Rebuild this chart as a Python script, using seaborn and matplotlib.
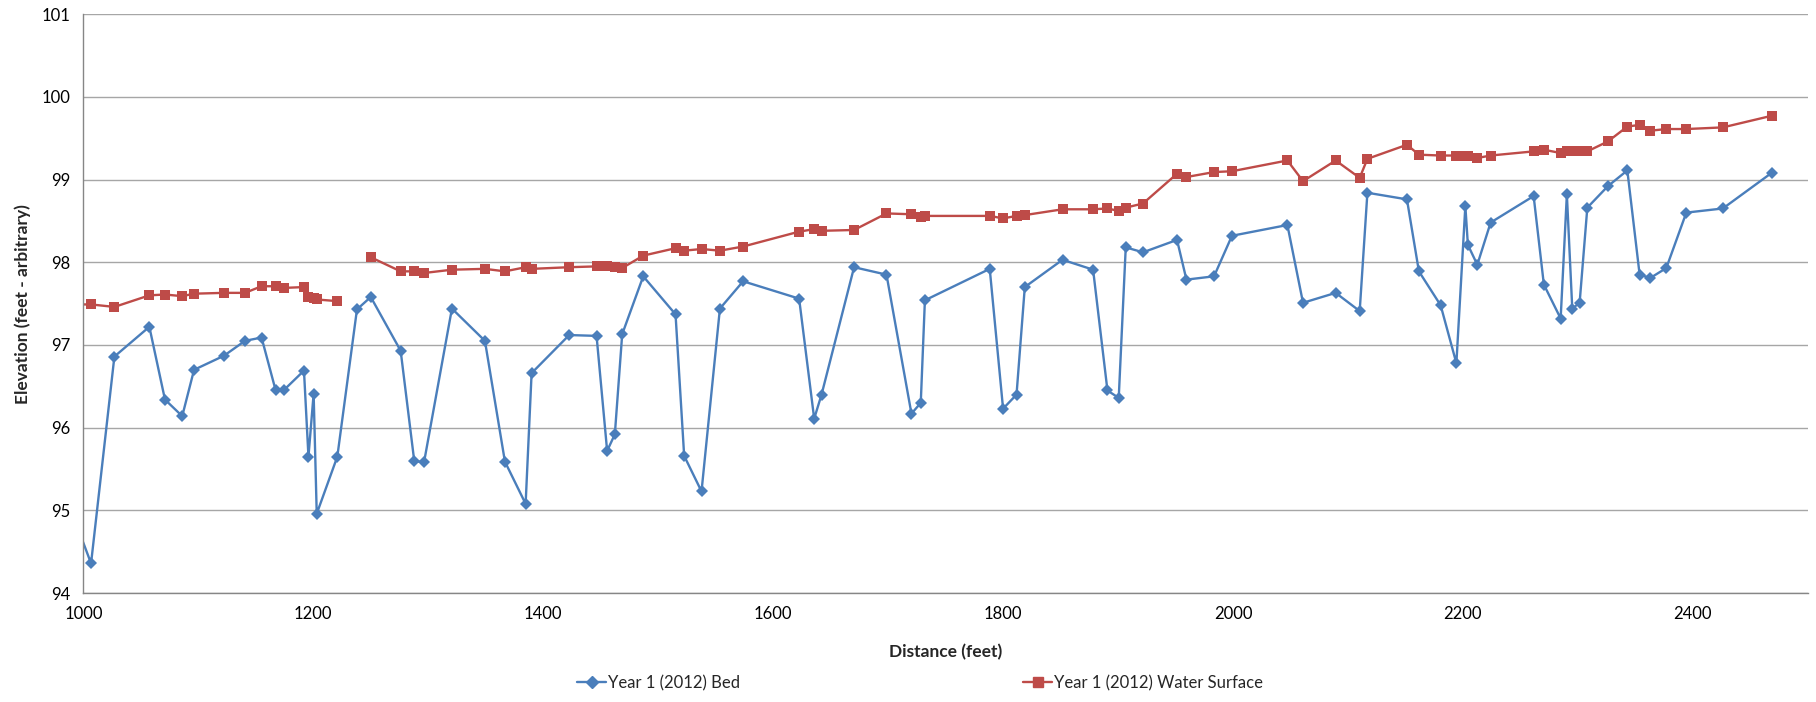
import numpy as np
import pandas as pd
import matplotlib
matplotlib.use("Agg")
import matplotlib.pyplot as plt
from matplotlib.lines import Line2D
import seaborn as sns

# station distance (feet)
distance = [990, 1006.7, 1027, 1057.4, 1071, 1086, 1096.3, 1122.3, 1140.6, 1155, 1167.3,
            1174.8, 1191.9, 1195.8, 1200.3, 1203, 1220.9, 1238, 1250,
            1276, 1287.8, 1296.3, 1320.6, 1349.3, 1366.7, 1384.7, 1389.9, 1422.6,
            1446.4, 1455.6, 1462.3, 1468.7, 1487,
            1515.1, 1522.6, 1537.7, 1553.7, 1573.9, 1622.6, 1635.7, 1642.1, 1670.4,
            1698.6, 1720.3, 1728.4, 1732,
            1788.4, 1800, 1811.7, 1818.9, 1851.7, 1878.3, 1890.8, 1900.6, 1906.7,
            1921.7, 1951.3, 1959.5, 1983.5, 1999.1,
            2047.3, 2060.9, 2089.3, 2110.2, 2116.9, 2151.3, 2161.7, 2180.6, 2194.3,
            2202.1, 2204.3, 2212.5, 2224.1,
            2261.5, 2270.4, 2285, 2290.4, 2295.1, 2301.5, 2308.2, 2326.1, 2343,
            2353.7, 2363, 2376.9, 2394.3, 2426.1, 2468.5]

# Year 1 (2012) bed elevation
bed = [94.98, 94.36, 96.86, 97.22, 96.34, 96.14, 96.70, 96.87, 97.05, 97.09, 96.45,
       96.46, 96.69, 95.65, 96.41, 94.96, 95.65, 97.43, 97.58,
       96.93, 95.60, 95.58, 97.44, 97.05, 95.59, 95.08, 96.66, 97.12,
       97.11, 95.72, 95.92, 97.13, 97.83,
       97.37, 95.66, 95.23, 97.44, 97.77, 97.56, 96.11, 96.40, 97.94,
       97.85, 96.17, 96.30, 97.54,
       97.92, 96.23, 96.40, 97.70, 98.03, 97.91, 96.45, 96.36, 98.18,
       98.12, 98.27, 97.79, 97.83, 98.32,
       98.45, 97.51, 97.63, 97.41, 98.84, 98.76, 97.89, 97.48, 96.78,
       98.68, 98.21, 97.97, 98.48,
       98.80, 97.73, 97.32, 98.82, 97.44, 97.51, 98.66, 98.92, 99.11,
       97.85, 97.81, 97.93, 98.60, 98.65, 99.08]

# Year 1 (2012) water surface elevation (None = not surveyed)
water = [97.49, 97.49, 97.46, 97.60, 97.61, 97.59, 97.62, 97.63, 97.63, 97.71, 97.71,
         97.69, 97.70, 97.58, 97.57, 97.55, 97.53, None, 98.06,
         97.89, 97.89, 97.87, 97.91, 97.92, 97.89, 97.94, 97.92, 97.94,
         97.95, 97.95, 97.94, 97.93, 98.08,
         98.17, 98.14, 98.16, 98.14, 98.19, 98.37, 98.40, 98.38, 98.39,
         98.59, 98.58, 98.55, 98.56,
         98.56, 98.53, 98.56, 98.57, 98.64, 98.64, 98.65, 98.62, 98.66,
         98.71, 99.07, 99.03, 99.09, 99.10,
         99.23, 98.98, 99.23, 99.02, 99.25, 99.42, 99.30, 99.29, 99.29,
         99.28, 99.29, 99.26, 99.29,
         99.34, 99.36, 99.32, 99.34, 99.34, 99.35, 99.34, 99.46, 99.64,
         99.66, 99.59, 99.61, 99.61, 99.63, 99.77]

x_ticks = [1000, 1200, 1400, 1600, 1800, 2000, 2200, 2400]
y_ticks = [94, 95, 96, 97, 98, 99, 100, 101]

blue = "#4A7EBB"
red = "#BE4B48"

df = pd.DataFrame({"distance": distance, "bed": bed,
                   "water": pd.to_numeric(pd.Series(water), errors="coerce")})
# split the water surface where a station has no value, so the line shows a gap
df["segment"] = df["water"].isna().cumsum()
ws = df.dropna(subset=["water"])

sns.set_theme(style="white")
plt.rcParams["font.family"] = ["Lato", "DejaVu Sans"]

fig, ax = plt.subplots(figsize=(18.16, 7.02), dpi=100)
fig.subplots_adjust(left=0.0459, right=0.9955, top=0.980, bottom=0.155)

sns.lineplot(data=df, x="distance", y="bed", ax=ax, color=blue, sort=False,
             estimator=None, marker="D", markersize=6.5, markeredgewidth=0,
             linewidth=1.7)
sns.lineplot(data=ws, x="distance", y="water", units="segment", ax=ax, color=red,
             sort=False, estimator=None, marker="s", markersize=7.5,
             markeredgewidth=0, linewidth=1.7)

ax.set_xlim(1000, 2500)
ax.set_ylim(94, 101)
ax.set_xticks(x_ticks)
ax.set_yticks(y_ticks)
ax.grid(axis="y", color="#A6A6A6", linewidth=1.0)
ax.grid(axis="x", visible=False)
for side in ["top", "right"]:
    ax.spines[side].set_visible(False)
for side in ["left", "bottom"]:
    ax.spines[side].set_color("#868686")
    ax.spines[side].set_linewidth(1.0)
ax.tick_params(axis="both", direction="out", length=4, width=0.8, color="#A6A6A6",
               labelsize=12, labelcolor="black", pad=5)

ax.set_xlabel("Distance (feet)", fontsize=12.5, fontweight="bold", labelpad=16)
ax.set_ylabel("Elevation (feet - arbitrary)", fontsize=12.5, fontweight="bold",
              labelpad=8)

handles = [Line2D([], [], color=blue, marker="D", markersize=6, linewidth=1.7),
           Line2D([], [], color=red, marker="s", markersize=7, linewidth=1.7)]
labels = ["Year 1 (2012) Bed", "Year 1 (2012) Water Surface"]
if ax.get_legend() is not None:
    ax.get_legend().remove()
fig.legend(handles, labels, loc="center", bbox_to_anchor=(0.5066, 0.027), ncol=2,
           frameon=False, fontsize=12, handlelength=1.75, handletextpad=0.1,
           columnspacing=17, markerscale=1.0)

fig.savefig("out.png", dpi=100)
